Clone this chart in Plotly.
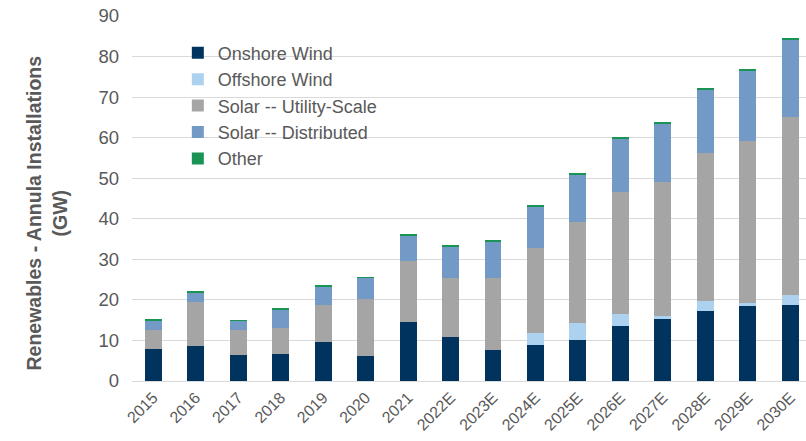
import plotly.graph_objects as go

# Annual renewable installations by technology (GW)
years = ["2015", "2016", "2017", "2018", "2019", "2020", "2021", "2022E",
         "2023E", "2024E", "2025E", "2026E", "2027E", "2028E", "2029E", "2030E"]

onshore_wind = [7.8, 8.7, 6.3, 6.7, 9.5, 6.2, 14.5, 10.8, 7.6, 8.9, 10.0, 13.5, 15.4, 17.3, 18.5, 18.8]
offshore_wind = [0.0, 0.0, 0.0, 0.0, 0.0, 0.0, 0.0, 0.0, 0.0, 3.0, 4.2, 2.9, 0.7, 2.5, 0.7, 2.3]
solar_utility = [4.8, 10.7, 6.3, 6.4, 9.2, 14.0, 15.1, 14.6, 17.7, 21.0, 25.0, 30.1, 33.0, 36.4, 40.0, 44.0]
solar_distributed = [2.3, 2.5, 2.2, 4.5, 4.7, 5.2, 6.3, 7.7, 9.0, 10.2, 11.6, 13.2, 14.4, 15.7, 17.3, 19.1]
other = [0.2, 0.2, 0.2, 0.2, 0.3, 0.2, 0.3, 0.3, 0.3, 0.4, 0.4, 0.3, 0.4, 0.3, 0.3, 0.4]

series = [
    ("Onshore Wind", onshore_wind, "#00345e"),
    ("Offshore Wind", offshore_wind, "#acd2ef"),
    ("Solar -- Utility-Scale", solar_utility, "#a5a5a5"),
    ("Solar -- Distributed", solar_distributed, "#7399c6"),
    ("Other", other, "#1a9455"),
]

FONT = "Liberation Sans, Arial, sans-serif"
GREY = "#595959"

fig = go.Figure()
for name, vals, color in series:
    fig.add_trace(go.Bar(
        x=years, y=vals, name=name,
        marker=dict(color=color, line=dict(width=0)),
    ))

fig.update_layout(
    barmode="stack",
    bargap=0.6,
    width=806, height=441,
    margin=dict(l=132, r=0, t=16, b=60),
    paper_bgcolor="white",
    plot_bgcolor="white",
    font=dict(family=FONT, color=GREY),
    showlegend=True,
    legend=dict(
        traceorder="normal",
        x=0.068, y=0.949, xanchor="left", yanchor="top",
        font=dict(size=18, color=GREY, family=FONT),
        bgcolor="rgba(0,0,0,0)",
        itemwidth=30,
        tracegroupgap=0,
    ),
    xaxis=dict(
        type="category",
        range=[-0.5, 15.37],
        tickangle=-45,
        tickfont=dict(size=16, color=GREY),
        showgrid=False,
        showline=True, linecolor="#d9d9d9", linewidth=1,
        ticks="",
    ),
    yaxis=dict(
        range=[0, 90],
        dtick=10,
        tickfont=dict(size=18.5, color=GREY),
        showgrid=True, gridcolor="#d9d9d9", gridwidth=1,
        zeroline=False,
        showline=False,
        ticklabelstandoff=12,
    ),
    annotations=[dict(
        text="<b>Renewables - Annula Installations<br>(GW)</b>",
        xref="paper", yref="paper",
        x=-0.127, y=0.46,
        xanchor="center", yanchor="middle",
        textangle=-90,
        showarrow=False,
        font=dict(size=19.5, color=GREY, family=FONT),
    )],
)

fig.write_html("out.html")
